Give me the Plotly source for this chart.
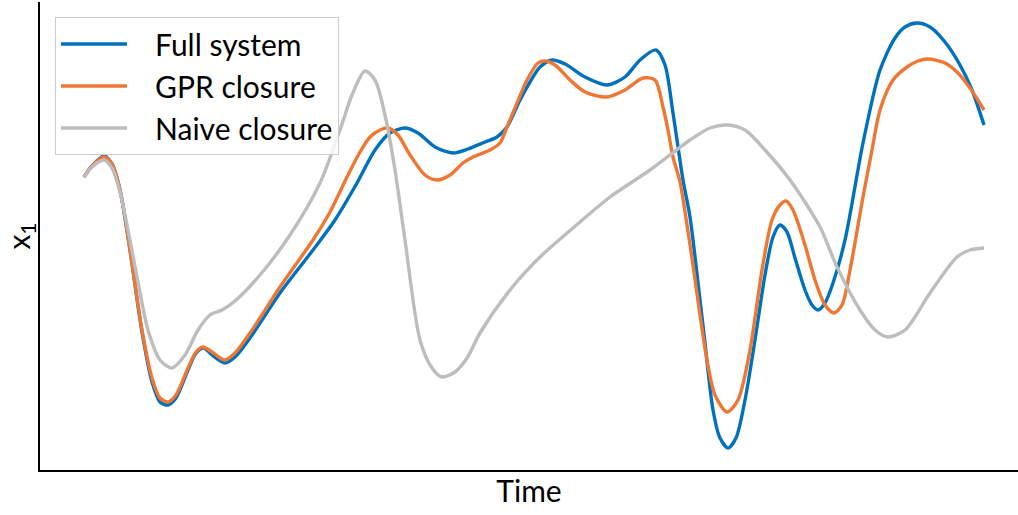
import plotly.graph_objects as go

# Values (arbitrary units: time and x1)
full_t = [84, 92, 104, 112, 120, 130, 142, 152, 160, 168, 176, 188, 196, 204, 212, 225, 235, 250, 280, 313,
          335, 357, 375, 390, 405, 418, 435, 453, 468, 485, 497, 507, 520, 530, 540, 552, 565, 585, 607, 625,
          640, 656, 665, 673, 683, 690, 700, 705, 713, 720, 728, 736, 745, 755, 765, 773, 780, 787, 795, 805,
          812, 818, 825, 833, 845, 863, 880, 895, 905, 917, 930, 945, 960, 972, 984]
full_y = [177, 166, 156, 164, 190, 250, 332, 382, 402, 405, 398, 370, 353, 348, 355, 363, 357, 338, 293, 250,
          220, 183, 150, 133, 128, 133, 147, 153, 149, 142, 137, 127, 100, 82, 67, 60, 64, 77, 85, 77,
          60, 50, 65, 113, 180, 217, 300, 343, 410, 438, 448, 438, 400, 340, 275, 237, 225, 232, 258, 290,
          305, 310, 303, 283, 240, 143, 70, 38, 27, 23, 27, 42, 65, 90, 125]

gpr_t = [84, 92, 104, 112, 120, 130, 142, 152, 160, 168, 176, 188, 196, 203, 212, 225, 235, 250, 280, 313,
         330, 347, 360, 370, 380, 388, 398, 410, 425, 437, 450, 463, 473, 490, 500, 507, 517, 527, 538, 545,
         555, 570, 585, 607, 625, 643, 655, 663, 668, 673, 680, 687, 693, 700, 707, 715, 727, 738, 750, 762,
         772, 780, 786, 793, 805, 815, 825, 834, 842, 850, 863, 872, 880, 893, 907, 918, 928, 945, 957, 970, 984]
gpr_y = [177, 166, 157, 164, 190, 250, 330, 378, 398, 402, 395, 368, 352, 347, 352, 360, 353, 333, 287, 240,
         212, 177, 152, 137, 130, 128, 135, 155, 175, 180, 175, 163, 157, 150, 143, 127, 103, 80, 63, 61,
         65, 80, 92, 97, 90, 78, 80, 107, 130, 157, 182, 225, 265, 315, 360, 395, 412, 400, 350, 270,
         220, 205, 201, 210, 245, 280, 305, 313, 305, 270, 197, 150, 110, 80, 67, 61, 59, 63, 72, 88, 110]

naive_t = [84, 92, 104, 112, 120, 128, 138, 148, 160, 172, 185, 198, 210, 222, 235, 260, 290, 320, 340, 352,
           365, 375, 385, 395, 405, 420, 432, 442, 455, 467, 480, 510, 540, 580, 610, 650, 690, 710, 727, 745,
           765, 790, 820, 837, 860, 875, 888, 905, 930, 957, 970, 984]
naive_y = [177, 167, 160, 168, 192, 230, 282, 330, 360, 368, 355, 330, 315, 310, 301, 275, 235, 183, 130, 95,
           71, 80, 115, 170, 240, 340, 368, 377, 372, 358, 333, 290, 257, 222, 197, 170, 140, 128, 125, 130,
           150, 180, 227, 267, 310, 330, 337, 330, 293, 257, 250, 248]

PLOT_BOTTOM = 470


def to_val(ys):
    return [PLOT_BOTTOM - v for v in ys]


series = [
    ("Full system", full_t, full_y, "#0072bd"),
    ("GPR closure", gpr_t, gpr_y, "#ee7733"),
    ("Naive closure", naive_t, naive_y, "#bdbdbd"),
]

PAD = "\u00a0" * 3  # gap between legend sample line and label

fig = go.Figure()
for name, t, y, color in series:
    fig.add_trace(go.Scatter(
        x=t, y=to_val(y), mode="lines", name=PAD + name, legendgroup=name,
        line=dict(color=color, width=3.4, shape="spline", smoothing=0.8),
    ))

W, H = 1018, 515
L, R, T, B = 40, 0, 2, 45

fig.update_layout(
    width=W, height=H,
    margin=dict(l=L, r=R, t=T, b=B),
    paper_bgcolor="white", plot_bgcolor="white",
    font=dict(family="Lato, sans-serif", size=30, color="black"),
    showlegend=True,
    legend=dict(
        x=(55 - L) / (W - L - R), y=1 - (17 - T) / (H - T - B),
        xanchor="left", yanchor="top",
        bgcolor="rgba(255,255,255,0.8)", bordercolor="#cccccc", borderwidth=1,
        font=dict(size=30), traceorder="grouped", tracegroupgap=0,
        itemwidth=66,
    ),
    xaxis=dict(
        range=[L, W - R], showgrid=False, zeroline=False, showticklabels=False, ticks="",
        showline=True, linecolor="black", linewidth=1.5,
        title=dict(text="Time", standoff=10, font=dict(size=30)),
        automargin=False,
    ),
    yaxis=dict(
        range=[0, H - T - B], showgrid=False, zeroline=False, showticklabels=False, ticks="",
        showline=True, linecolor="black", linewidth=1.5,
        title=dict(text="x<sub>1</sub>", standoff=8, font=dict(size=30)),
        automargin=False,
    ),
)

fig.write_html("out.html", config={"displayModeBar": False},
               post_script="document.body.style.margin='0';")
